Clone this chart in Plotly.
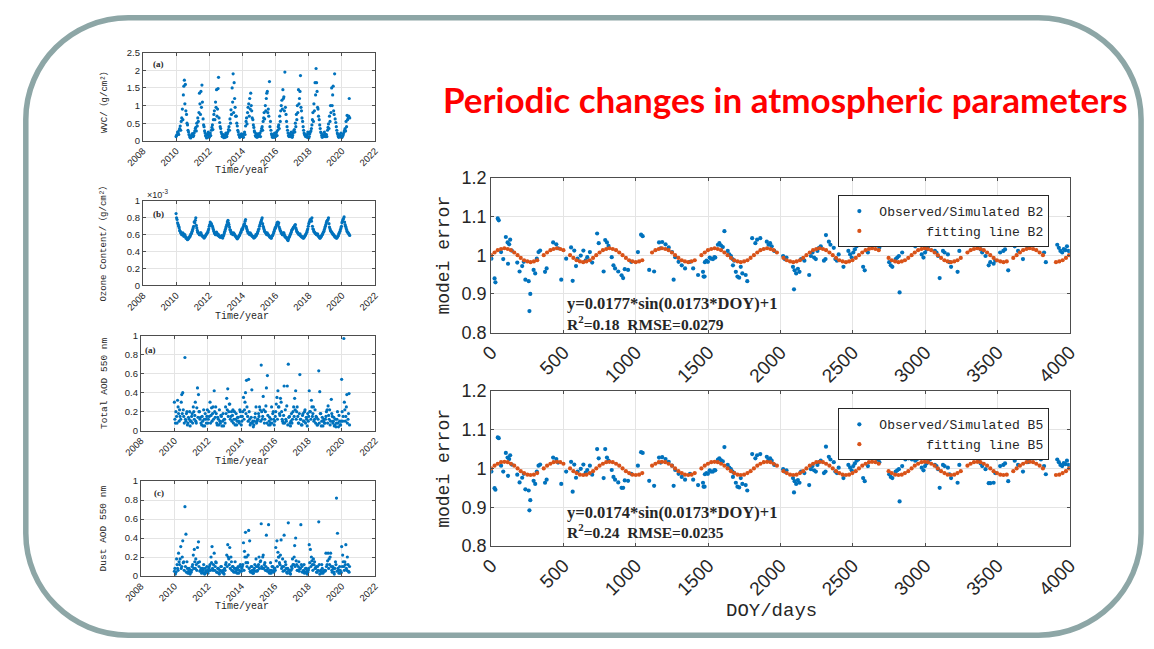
import plotly.graph_objects as go

W, H = 1154, 649


def px_x(x):
    return x / W


def px_y(y):
    return 1 - y / H


# ---------------- left panels: sampling times (years) ----------------
years = [
    2010.00, 2010.06, 2010.13, 2010.19, 2010.25, 2010.31, 2010.38, 2010.44, 2010.50, 2010.56, 2010.63, 2010.69, 2010.75, 2010.81, 2010.88, 2010.94,
    2011.00, 2011.06, 2011.13, 2011.19, 2011.25, 2011.31, 2011.38, 2011.44, 2011.50, 2011.56, 2011.63, 2011.69, 2011.75, 2011.81, 2011.88, 2011.94,
    2012.00, 2012.06, 2012.13, 2012.19, 2012.25, 2012.31, 2012.38, 2012.44, 2012.50, 2012.56, 2012.63, 2012.69, 2012.75, 2012.81, 2012.88, 2012.94,
    2013.00, 2013.06, 2013.13, 2013.19, 2013.25, 2013.31, 2013.38, 2013.44, 2013.50, 2013.56, 2013.63, 2013.69, 2013.75, 2013.81, 2013.88, 2013.94,
    2014.00, 2014.06, 2014.13, 2014.19, 2014.25, 2014.31, 2014.38, 2014.44, 2014.50, 2014.56, 2014.63, 2014.69, 2014.75, 2014.81, 2014.88, 2014.94,
    2015.00, 2015.06, 2015.13, 2015.19, 2015.25, 2015.31, 2015.38, 2015.44, 2015.50, 2015.56, 2015.63, 2015.69, 2015.75, 2015.81, 2015.88, 2015.94,
    2016.00, 2016.06, 2016.13, 2016.19, 2016.25, 2016.31, 2016.38, 2016.44, 2016.50, 2016.56, 2016.63, 2016.69, 2016.75, 2016.81, 2016.88, 2016.94,
    2017.00, 2017.06, 2017.13, 2017.19, 2017.25, 2017.31, 2017.38, 2017.44, 2017.50, 2017.56, 2017.63, 2017.69, 2017.75, 2017.81, 2017.88, 2017.94,
    2018.00, 2018.06, 2018.13, 2018.19, 2018.25, 2018.31, 2018.38, 2018.44, 2018.50, 2018.56, 2018.63, 2018.69, 2018.75, 2018.81, 2018.88, 2018.94,
    2019.00, 2019.06, 2019.13, 2019.19, 2019.25, 2019.31, 2019.38, 2019.44, 2019.50, 2019.56, 2019.63, 2019.69, 2019.75, 2019.81, 2019.88, 2019.94,
    2020.00, 2020.06, 2020.13, 2020.19, 2020.25, 2020.31, 2020.38, 2020.44,
]

years_mid = [
    2010.03, 2010.09, 2010.16, 2010.22, 2010.28, 2010.34, 2010.41, 2010.47, 2010.53, 2010.59, 2010.66, 2010.72, 2010.78, 2010.84, 2010.91, 2010.97,
    2011.03, 2011.09, 2011.16, 2011.22, 2011.28, 2011.34, 2011.41, 2011.47, 2011.53, 2011.59, 2011.66, 2011.72, 2011.78, 2011.84, 2011.91, 2011.97,
    2012.03, 2012.09, 2012.16, 2012.22, 2012.28, 2012.34, 2012.41, 2012.47, 2012.53, 2012.59, 2012.66, 2012.72, 2012.78, 2012.84, 2012.91, 2012.97,
    2013.03, 2013.09, 2013.16, 2013.22, 2013.28, 2013.34, 2013.41, 2013.47, 2013.53, 2013.59, 2013.66, 2013.72, 2013.78, 2013.84, 2013.91, 2013.97,
    2014.03, 2014.09, 2014.16, 2014.22, 2014.28, 2014.34, 2014.41, 2014.47, 2014.53, 2014.59, 2014.66, 2014.72, 2014.78, 2014.84, 2014.91, 2014.97,
    2015.03, 2015.09, 2015.16, 2015.22, 2015.28, 2015.34, 2015.41, 2015.47, 2015.53, 2015.59, 2015.66, 2015.72, 2015.78, 2015.84, 2015.91, 2015.97,
    2016.03, 2016.09, 2016.16, 2016.22, 2016.28, 2016.34, 2016.41, 2016.47, 2016.53, 2016.59, 2016.66, 2016.72, 2016.78, 2016.84, 2016.91, 2016.97,
    2017.03, 2017.09, 2017.16, 2017.22, 2017.28, 2017.34, 2017.41, 2017.47, 2017.53, 2017.59, 2017.66, 2017.72, 2017.78, 2017.84, 2017.91, 2017.97,
    2018.03, 2018.09, 2018.16, 2018.22, 2018.28, 2018.34, 2018.41, 2018.47, 2018.53, 2018.59, 2018.66, 2018.72, 2018.78, 2018.84, 2018.91, 2018.97,
    2019.03, 2019.09, 2019.16, 2019.22, 2019.28, 2019.34, 2019.41, 2019.47, 2019.53, 2019.59, 2019.66, 2019.72, 2019.78, 2019.84, 2019.91, 2019.97,
    2020.03, 2020.09, 2020.16, 2020.22, 2020.28, 2020.34, 2020.41, 2020.47,
]

wvc = [
    0.12, 0.18, 0.22, 0.30, 0.42, 0.55, 0.90, 1.30, 1.72, 1.60, 0.75, 0.45, 0.25, 0.15, 0.08, 0.14,
    0.20, 0.15, 0.28, 0.38, 0.50, 0.65, 0.80, 1.05, 1.40, 1.58, 0.62, 0.40, 0.22, 0.12, 0.18, 0.25,
    0.10, 0.22, 0.30, 0.45, 0.60, 0.85, 1.10, 1.45, 0.90, 1.80, 0.52, 0.35, 0.20, 0.14, 0.09, 0.16,
    0.22, 0.12, 0.25, 0.40, 0.62, 0.88, 1.50, 1.90, 1.65, 0.95, 0.70, 0.42, 0.25, 0.15, 0.12, 0.20,
    0.18, 0.10, 0.25, 0.42, 0.65, 0.80, 1.05, 1.20, 1.35, 0.85, 0.60, 0.38, 0.24, 0.12, 0.10, 0.20,
    0.15, 0.22, 0.28, 0.40, 0.55, 0.80, 1.00, 1.20, 1.40, 0.90, 1.68, 0.55, 0.20, 0.10, 0.14, 0.22,
    0.12, 0.25, 0.30, 0.45, 0.70, 0.85, 1.15, 1.45, 1.25, 1.95, 0.75, 0.40, 0.22, 0.12, 0.18, 0.25,
    0.10, 0.22, 0.32, 0.50, 0.75, 1.00, 1.45, 1.20, 1.85, 0.85, 0.55, 0.30, 0.18, 0.12, 0.15, 0.25,
    0.08, 0.20, 0.28, 0.45, 0.80, 1.05, 1.65, 2.05, 1.40, 0.90, 0.60, 0.35, 0.22, 0.10, 0.15, 0.25,
    0.12, 0.18, 0.30, 0.48, 0.70, 1.00, 1.50, 1.30, 0.85, 1.90, 0.52, 0.30, 0.18, 0.10, 0.14, 0.22,
    0.10, 0.15, 0.25, 0.35, 0.55, 0.72, 0.65, 1.20,
]

wvc_mid = [
    0.15, 0.25, 0.18, 0.35, 0.30, 0.65, 0.60, 1.55, 1.05, 0.85, 0.50, 0.30, 0.18, 0.10, 0.12, 0.20,
    0.12, 0.22, 0.35, 0.28, 0.42, 0.55, 1.35, 0.75, 0.95, 1.10, 0.45, 0.28, 0.15, 0.08, 0.20, 0.14,
    0.18, 0.15, 0.38, 0.32, 0.75, 0.60, 0.95, 0.70, 1.48, 0.65, 0.40, 0.25, 0.12, 0.18, 0.15, 0.10,
    0.15, 0.20, 0.32, 0.30, 0.50, 0.75, 1.10, 0.80, 1.20, 0.70, 0.50, 0.30, 0.18, 0.10, 0.18, 0.12,
    0.12, 0.20, 0.18, 0.55, 0.48, 0.95, 0.70, 0.90, 1.00, 0.65, 0.45, 0.28, 0.15, 0.20, 0.15, 0.12,
    0.20, 0.12, 0.35, 0.30, 0.65, 0.62, 0.85, 1.35, 0.80, 0.70, 0.40, 0.30, 0.15, 0.18, 0.10, 0.15,
    0.20, 0.15, 0.40, 0.35, 0.55, 1.00, 0.90, 1.20, 0.85, 0.95, 0.55, 0.30, 0.15, 0.20, 0.12, 0.18,
    0.15, 0.28, 0.25, 0.40, 0.60, 0.80, 1.05, 1.40, 0.95, 0.65, 0.40, 0.22, 0.15, 0.18, 0.10, 0.20,
    0.12, 0.25, 0.35, 0.60, 0.55, 0.85, 1.30, 1.65, 0.95, 0.70, 0.45, 0.25, 0.15, 0.18, 0.12, 0.20,
    0.18, 0.12, 0.38, 0.35, 0.55, 0.80, 1.00, 1.55, 0.75, 0.62, 0.40, 0.22, 0.12, 0.18, 0.15, 0.10,
    0.15, 0.20, 0.30, 0.28, 0.40, 0.60, 0.70, 0.65,
]

# ozone content in units of 1e-3 g/cm^2
ozone_e3 = [
    0.85, 0.78, 0.72, 0.68, 0.64, 0.62, 0.60, 0.61, 0.59, 0.58, 0.56, 0.54, 0.55, 0.57, 0.60, 0.62,
    0.66, 0.70, 0.74, 0.80, 0.68, 0.63, 0.61, 0.60, 0.62, 0.59, 0.58, 0.56, 0.58, 0.60, 0.62, 0.65,
    0.70, 0.75, 0.73, 0.70, 0.66, 0.62, 0.60, 0.63, 0.61, 0.60, 0.58, 0.57, 0.59, 0.56, 0.60, 0.64,
    0.68, 0.72, 0.77, 0.72, 0.66, 0.63, 0.62, 0.60, 0.61, 0.59, 0.57, 0.55, 0.57, 0.59, 0.62, 0.65,
    0.66, 0.70, 0.73, 0.78, 0.68, 0.64, 0.62, 0.60, 0.61, 0.59, 0.58, 0.56, 0.57, 0.60, 0.61, 0.64,
    0.67, 0.72, 0.76, 0.80, 0.70, 0.66, 0.63, 0.61, 0.62, 0.60, 0.58, 0.57, 0.56, 0.59, 0.62, 0.66,
    0.68, 0.72, 0.75, 0.74, 0.67, 0.64, 0.61, 0.60, 0.62, 0.58, 0.57, 0.55, 0.53, 0.57, 0.60, 0.63,
    0.66, 0.68, 0.70, 0.72, 0.66, 0.63, 0.61, 0.60, 0.59, 0.58, 0.57, 0.56, 0.58, 0.60, 0.63, 0.67,
    0.73, 0.76, 0.78, 0.80, 0.67, 0.64, 0.62, 0.61, 0.60, 0.59, 0.57, 0.56, 0.58, 0.60, 0.63, 0.66,
    0.70, 0.74, 0.77, 0.80, 0.69, 0.65, 0.63, 0.61, 0.60, 0.58, 0.57, 0.56, 0.58, 0.61, 0.64, 0.68,
    0.74, 0.78, 0.81, 0.72, 0.68, 0.64, 0.62, 0.60,
]

ozone_e3_mid = [
    0.80, 0.74, 0.70, 0.65, 0.62, 0.60, 0.62, 0.58, 0.60, 0.56, 0.55, 0.56, 0.57, 0.58, 0.61, 0.64,
    0.68, 0.75, 0.77, 0.71, 0.65, 0.62, 0.60, 0.62, 0.60, 0.58, 0.57, 0.57, 0.59, 0.61, 0.63, 0.67,
    0.72, 0.73, 0.71, 0.68, 0.64, 0.61, 0.62, 0.60, 0.59, 0.58, 0.57, 0.58, 0.57, 0.58, 0.62, 0.66,
    0.70, 0.75, 0.74, 0.69, 0.65, 0.61, 0.61, 0.62, 0.60, 0.58, 0.56, 0.56, 0.58, 0.60, 0.63, 0.67,
    0.68, 0.72, 0.76, 0.70, 0.66, 0.62, 0.61, 0.62, 0.60, 0.58, 0.57, 0.57, 0.58, 0.59, 0.62, 0.66,
    0.70, 0.74, 0.78, 0.73, 0.68, 0.64, 0.62, 0.60, 0.60, 0.59, 0.57, 0.56, 0.58, 0.60, 0.64, 0.68,
    0.70, 0.74, 0.72, 0.69, 0.65, 0.62, 0.60, 0.62, 0.60, 0.57, 0.56, 0.54, 0.55, 0.58, 0.61, 0.65,
    0.67, 0.69, 0.71, 0.68, 0.64, 0.62, 0.60, 0.61, 0.58, 0.57, 0.56, 0.57, 0.59, 0.61, 0.65, 0.70,
    0.75, 0.78, 0.76, 0.70, 0.66, 0.63, 0.61, 0.60, 0.61, 0.58, 0.56, 0.57, 0.59, 0.61, 0.64, 0.68,
    0.72, 0.76, 0.78, 0.73, 0.67, 0.64, 0.62, 0.60, 0.59, 0.57, 0.56, 0.57, 0.59, 0.62, 0.66, 0.70,
    0.76, 0.79, 0.75, 0.70, 0.66, 0.63, 0.61, 0.59,
]

aod_total = [
    0.30, 0.08, 0.15, 0.32, 0.18, 0.22, 0.12, 0.38, 0.40, 0.15, 0.77, 0.10, 0.20, 0.08, 0.12, 0.05,
    0.10, 0.18, 0.25, 0.12, 0.30, 0.08, 0.45, 0.38, 0.20, 0.14, 0.06, 0.10, 0.22, 0.05, 0.12, 0.15,
    0.08, 0.20, 0.30, 0.16, 0.10, 0.25, 0.42, 0.14, 0.18, 0.06, 0.12, 0.22, 0.08, 0.15, 0.10, 0.05,
    0.12, 0.25, 0.34, 0.44, 0.20, 0.28, 0.15, 0.10, 0.22, 0.12, 0.06, 0.18, 0.10, 0.14, 0.08, 0.20,
    0.06, 0.15, 0.35, 0.22, 0.40, 0.53, 0.15, 0.54, 0.12, 0.08, 0.43, 0.10, 0.06, 0.14, 0.25, 0.10,
    0.12, 0.15, 0.22, 0.69, 0.12, 0.36, 0.08, 0.20, 0.45, 0.58, 0.06, 0.14, 0.08, 0.25, 0.18, 0.12,
    0.10, 0.20, 0.35, 0.42, 0.25, 0.16, 0.30, 0.12, 0.08, 0.47, 0.22, 0.10, 0.47, 0.70, 0.15, 0.05,
    0.18, 0.12, 0.25, 0.34, 0.42, 0.20, 0.15, 0.08, 0.59, 0.12, 0.06, 0.18, 0.10, 0.22, 0.14, 0.05,
    0.10, 0.42, 0.20, 0.32, 0.15, 0.25, 0.12, 0.08, 0.14, 0.06, 0.63, 0.41, 0.18, 0.10, 0.05, 0.12,
    0.08, 0.15, 0.22, 0.26, 0.12, 0.06, 0.33, 0.15, 0.10, 0.05, 0.12, 0.08, 0.20, 0.04, 0.10, 0.06,
    0.54, 0.10, 0.97, 0.22, 0.15, 0.38, 0.12, 0.39,
]

aod_total_mid = [
    0.12, 0.20, 0.08, 0.25, 0.10, 0.15, 0.30, 0.18, 0.22, 0.08, 0.12, 0.18, 0.06, 0.14, 0.20, 0.10,
    0.15, 0.08, 0.20, 0.16, 0.10, 0.24, 0.14, 0.20, 0.12, 0.08, 0.15, 0.05, 0.12, 0.18, 0.08, 0.22,
    0.12, 0.15, 0.08, 0.24, 0.18, 0.12, 0.20, 0.25, 0.08, 0.14, 0.06, 0.10, 0.16, 0.05, 0.18, 0.12,
    0.08, 0.18, 0.22, 0.15, 0.28, 0.12, 0.20, 0.16, 0.08, 0.20, 0.12, 0.06, 0.14, 0.10, 0.22, 0.15,
    0.10, 0.20, 0.12, 0.30, 0.18, 0.25, 0.10, 0.20, 0.06, 0.14, 0.08, 0.04, 0.10, 0.18, 0.08, 0.12,
    0.18, 0.25, 0.10, 0.20, 0.15, 0.22, 0.12, 0.26, 0.08, 0.16, 0.10, 0.06, 0.12, 0.08, 0.20, 0.06,
    0.15, 0.28, 0.12, 0.25, 0.18, 0.34, 0.20, 0.10, 0.16, 0.08, 0.12, 0.26, 0.06, 0.14, 0.08, 0.10,
    0.08, 0.20, 0.15, 0.22, 0.12, 0.25, 0.08, 0.18, 0.12, 0.06, 0.16, 0.10, 0.20, 0.08, 0.12, 0.18,
    0.15, 0.20, 0.12, 0.25, 0.18, 0.10, 0.22, 0.15, 0.06, 0.12, 0.08, 0.18, 0.05, 0.14, 0.10, 0.08,
    0.12, 0.20, 0.08, 0.16, 0.22, 0.10, 0.18, 0.08, 0.14, 0.06, 0.04, 0.12, 0.08, 0.16, 0.06, 0.10,
    0.20, 0.15, 0.30, 0.10, 0.25, 0.08, 0.18, 0.06,
]

aod_dust = [
    0.05, 0.02, 0.18, 0.08, 0.24, 0.12, 0.31, 0.10, 0.37, 0.15, 0.73, 0.44, 0.15, 0.03, 0.08, 0.02,
    0.04, 0.10, 0.22, 0.28, 0.08, 0.12, 0.30, 0.36, 0.15, 0.06, 0.03, 0.08, 0.12, 0.02, 0.05, 0.10,
    0.03, 0.08, 0.12, 0.20, 0.31, 0.06, 0.24, 0.10, 0.14, 0.04, 0.08, 0.02, 0.06, 0.10, 0.05, 0.03,
    0.08, 0.12, 0.22, 0.33, 0.18, 0.30, 0.20, 0.06, 0.10, 0.04, 0.15, 0.08, 0.03, 0.10, 0.06, 0.12,
    0.05, 0.10, 0.35, 0.26, 0.46, 0.20, 0.14, 0.48, 0.37, 0.04, 0.10, 0.03, 0.06, 0.12, 0.18, 0.05,
    0.10, 0.20, 0.15, 0.55, 0.08, 0.22, 0.12, 0.06, 0.43, 0.05, 0.54, 0.03, 0.14, 0.06, 0.10, 0.04,
    0.08, 0.30, 0.37, 0.25, 0.20, 0.12, 0.38, 0.10, 0.05, 0.43, 0.15, 0.08, 0.03, 0.56, 0.06, 0.02,
    0.10, 0.18, 0.12, 0.32, 0.40, 0.12, 0.06, 0.15, 0.08, 0.54, 0.10, 0.05, 0.12, 0.04, 0.08, 0.02,
    0.06, 0.33, 0.28, 0.20, 0.12, 0.18, 0.15, 0.08, 0.04, 0.10, 0.57, 0.02, 0.06, 0.12, 0.03, 0.05,
    0.05, 0.24, 0.12, 0.24, 0.18, 0.20, 0.10, 0.04, 0.08, 0.02, 0.15, 0.82, 0.45, 0.06, 0.10, 0.03,
    0.31, 0.22, 0.10, 0.15, 0.33, 0.06, 0.12, 0.04,
]

aod_dust_mid = [
    0.08, 0.04, 0.12, 0.06, 0.15, 0.18, 0.08, 0.20, 0.14, 0.06, 0.10, 0.04, 0.08, 0.05, 0.03, 0.06,
    0.06, 0.12, 0.08, 0.15, 0.18, 0.06, 0.14, 0.10, 0.05, 0.08, 0.04, 0.06, 0.03, 0.08, 0.04, 0.06,
    0.05, 0.10, 0.06, 0.14, 0.08, 0.12, 0.06, 0.15, 0.04, 0.08, 0.03, 0.06, 0.10, 0.04, 0.06, 0.02,
    0.06, 0.14, 0.10, 0.20, 0.12, 0.08, 0.15, 0.10, 0.05, 0.08, 0.04, 0.06, 0.08, 0.03, 0.10, 0.05,
    0.08, 0.12, 0.06, 0.20, 0.14, 0.10, 0.22, 0.08, 0.05, 0.10, 0.06, 0.03, 0.08, 0.05, 0.10, 0.06,
    0.12, 0.08, 0.16, 0.10, 0.20, 0.08, 0.14, 0.10, 0.06, 0.08, 0.04, 0.06, 0.03, 0.10, 0.05, 0.08,
    0.06, 0.16, 0.10, 0.20, 0.14, 0.22, 0.08, 0.18, 0.10, 0.06, 0.12, 0.04, 0.08, 0.06, 0.03, 0.06,
    0.08, 0.12, 0.20, 0.10, 0.16, 0.06, 0.10, 0.05, 0.08, 0.12, 0.04, 0.06, 0.03, 0.08, 0.05, 0.04,
    0.08, 0.14, 0.10, 0.16, 0.06, 0.12, 0.08, 0.10, 0.04, 0.06, 0.12, 0.05, 0.03, 0.08, 0.05, 0.06,
    0.06, 0.10, 0.16, 0.08, 0.12, 0.24, 0.06, 0.10, 0.04, 0.08, 0.12, 0.05, 0.08, 0.03, 0.06, 0.04,
    0.10, 0.15, 0.06, 0.12, 0.08, 0.20, 0.05, 0.10,
]

# ---------------- right panels: observed / simulated ratios ----------------
doy = [
    1, 23, 29, 45, 52, 68, 83, 101, 113, 116,
    124, 131, 142, 180, 196, 214, 225, 236, 259, 264,
    270, 293, 304, 315, 327, 338, 372, 383, 428, 450,
    462, 484, 518, 552, 563, 574, 586, 597, 619, 637,
    653, 664, 682, 698, 732, 743, 777, 788, 800, 811,
    833, 845, 856, 878, 901, 912, 923, 946, 968, 1014,
    1036, 1047, 1092, 1126, 1160, 1171, 1182, 1205, 1227, 1250,
    1261, 1272, 1295, 1317, 1340, 1374, 1396, 1430, 1464, 1468,
    1475, 1477, 1488, 1498, 1510, 1520, 1533, 1543, 1549, 1567,
    1577, 1589, 1601, 1612, 1635, 1646, 1657, 1668, 1671, 1680,
    1691, 1702, 1714, 1725, 1736, 1759, 1770, 1804, 1826, 1838,
    1860, 1905, 1917, 1928, 1939, 1957, 2018, 2029, 2041, 2086,
    2093, 2097, 2108, 2120, 2131, 2142, 2165, 2198, 2210, 2221,
    2232, 2244, 2255, 2266, 2278, 2300, 2311, 2314, 2334, 2345,
    2368, 2379, 2390, 2402, 2435, 2469, 2481, 2492, 2495, 2503,
    2514, 2526, 2537, 2571, 2582, 2604, 2627, 2638, 2672, 2683,
    2728, 2751, 2762, 2773, 2796, 2807, 2818, 2823, 2841, 2863,
    2886, 2908, 2931, 2942, 2976, 2988, 2999, 3010, 3021, 3033,
    3055, 3067, 3078, 3089, 3100, 3123, 3134, 3157, 3168, 3179,
    3224, 3230, 3236, 3292, 3315, 3371, 3383, 3394, 3417, 3439,
    3450, 3473, 3484, 3495, 3518, 3540, 3552, 3574, 3619, 3642,
    3676, 3710, 3721, 3743, 3766, 3788, 3800, 3822, 3834, 3913,
    3924, 3935, 3947, 3958, 3969, 3980, 3992,
]

ratio_b2 = [
    0.991, 0.940, 0.930, 1.095, 1.090, 1.008, 0.990, 1.047, 1.033, 0.978,
    1.028, 1.040, 1.012, 0.981, 0.958, 0.972, 0.983, 0.937, 0.933, 0.856,
    0.900, 0.962, 0.953, 0.991, 1.008, 1.012, 0.957, 0.966, 1.033, 1.028,
    1.018, 0.937, 0.991, 1.020, 0.934, 1.012, 0.972, 0.991, 0.999, 1.012,
    0.987, 0.995, 1.008, 0.981, 1.056, 1.031, 0.958, 1.039, 1.033, 1.024,
    0.995, 0.974, 0.966, 0.958, 0.948, 0.941, 0.964, 0.962, 0.983, 1.008,
    1.053, 1.049, 0.962, 0.958, 1.033, 1.018, 1.034, 1.028, 1.020, 1.008,
    0.937, 0.995, 0.983, 0.974, 0.966, 0.983, 0.966, 0.949, 0.957, 0.945,
    0.945, 0.982, 0.986, 0.983, 0.994, 0.991, 0.990, 0.995, 0.994, 1.027,
    1.031, 1.025, 1.021, 1.062, 1.011, 1.002, 0.998, 0.990, 0.974, 0.986,
    0.957, 0.945, 0.942, 0.970, 0.953, 0.949, 0.933, 1.044, 1.031, 1.040,
    1.044, 1.035, 1.027, 1.031, 1.023, 1.011, 0.998, 0.990, 0.994, 0.970,
    0.912, 0.961, 0.953, 0.965, 0.957, 0.990, 0.986, 0.949, 0.998, 1.007,
    0.994, 0.990, 1.011, 1.019, 1.023, 0.986, 0.990, 1.052, 1.035, 1.027,
    1.019, 0.990, 0.986, 1.002, 0.970, 1.011, 1.002, 0.994, 1.040, 1.007,
    1.015, 1.023, 1.027, 0.970, 0.961, 1.007, 1.035, 1.031, 1.027, 1.019,
    1.035, 0.982, 0.974, 0.970, 0.990, 0.994, 0.998, 0.904, 1.007, 1.027,
    1.031, 1.027, 1.023, 1.027, 1.002, 0.994, 1.007, 1.015, 1.023, 1.027,
    1.052, 1.011, 1.007, 0.998, 0.941, 1.011, 1.007, 1.002, 0.982, 0.970,
    0.957, 1.038, 1.011, 1.052, 1.048, 1.027, 1.015, 1.007, 0.998, 0.974,
    0.982, 0.978, 0.986, 1.031, 1.007, 1.011, 1.015, 0.961, 1.023, 1.011,
    0.990, 1.019, 1.027, 1.030, 1.031, 1.035, 1.027, 1.007, 0.982, 1.027,
    1.019, 1.011, 1.007, 1.016, 1.013, 1.023, 1.011,
]

ratio_b5 = [
    0.992, 0.949, 0.945, 1.080, 1.078, 1.007, 0.992, 1.040, 1.028, 0.981,
    1.024, 1.034, 1.010, 0.984, 0.964, 0.976, 0.986, 0.946, 0.943, 0.892,
    0.918, 0.968, 0.960, 0.992, 1.007, 1.010, 0.963, 0.971, 1.028, 1.024,
    1.015, 0.960, 0.992, 1.017, 0.940, 1.010, 0.976, 0.992, 0.999, 1.010,
    0.989, 0.996, 1.007, 0.984, 1.050, 1.026, 0.975, 1.050, 1.028, 1.020,
    0.996, 0.978, 0.971, 0.964, 0.950, 0.950, 0.969, 0.968, 0.986, 1.007,
    1.042, 1.040, 0.968, 0.955, 1.028, 1.015, 1.029, 1.024, 1.017, 1.007,
    0.955, 0.996, 0.986, 0.978, 0.971, 0.986, 0.971, 0.957, 0.963, 0.953,
    0.953, 0.985, 0.988, 0.986, 0.995, 0.992, 0.992, 0.996, 0.995, 1.023,
    1.026, 1.021, 1.018, 1.055, 1.009, 1.002, 0.998, 0.992, 0.978, 0.988,
    0.963, 0.953, 0.951, 0.975, 0.960, 0.957, 0.943, 1.037, 1.026, 1.034,
    1.037, 1.030, 1.023, 1.026, 1.020, 1.009, 0.998, 0.992, 0.995, 0.975,
    0.938, 0.967, 0.960, 0.970, 0.963, 0.992, 0.988, 0.957, 0.998, 1.006,
    0.995, 0.992, 1.009, 1.016, 1.020, 0.988, 0.992, 1.056, 1.030, 1.023,
    1.016, 0.992, 0.988, 1.002, 0.975, 1.009, 1.002, 0.995, 1.034, 1.006,
    1.013, 1.020, 1.023, 0.975, 0.967, 1.006, 1.030, 1.026, 1.023, 1.016,
    1.030, 0.985, 0.978, 0.975, 0.992, 0.995, 0.998, 0.915, 1.006, 1.023,
    1.026, 1.023, 1.020, 1.023, 1.002, 0.995, 1.006, 1.013, 1.020, 1.023,
    1.044, 1.009, 1.006, 0.998, 0.950, 1.009, 1.006, 1.002, 0.985, 0.975,
    0.963, 1.032, 1.009, 1.044, 1.041, 1.023, 1.013, 1.006, 0.998, 0.962,
    0.962, 0.963, 0.988, 1.026, 1.006, 1.009, 1.013, 0.967, 1.020, 1.009,
    0.992, 1.016, 1.023, 1.026, 1.026, 1.030, 1.023, 1.006, 0.985, 1.023,
    1.016, 1.009, 1.006, 1.014, 1.011, 1.020, 1.009,
]

# fitted curve values read at the plotted DOY positions
fit_doy = [
    0, 23, 45, 68, 91, 114, 136, 159, 182, 204, 227, 250, 272, 295, 318,
    363, 386, 409, 431, 454, 477, 499, 545, 568, 590, 613, 636, 658, 681, 704,
    726, 749, 772, 795, 817, 840, 863, 885, 908, 931, 953, 976, 999, 1022, 1044,
    1112, 1135, 1158, 1180, 1203, 1226, 1249, 1271, 1294, 1317, 1339, 1362, 1385, 1407,
    1453, 1476, 1498, 1521, 1544, 1566, 1589, 1612, 1634, 1657, 1680, 1703, 1725, 1748, 1771, 1793,
    1816, 1839, 1861, 1884, 1907, 1930, 1952, 1975, 2020, 2043, 2066, 2088, 2111, 2134, 2157,
    2179, 2202, 2225, 2247, 2270, 2293, 2315, 2338, 2361, 2384, 2406, 2429, 2452, 2474, 2497, 2520,
    2542, 2565, 2588, 2611, 2633, 2656, 2679, 2747, 2769, 2792, 2815, 2838, 2860, 2883,
    2906, 2928, 2951, 2974, 2996, 3019, 3042, 3065, 3087, 3110, 3133, 3155, 3178, 3201, 3223, 3246,
    3292, 3314, 3337, 3360, 3382, 3405, 3428, 3450, 3473, 3496, 3519, 3541, 3564, 3609,
    3632, 3655, 3677, 3700, 3723, 3746, 3768, 3791, 3814, 3904, 3927, 3950, 3973,
    3995,
]

fit_b2 = [
    1.000, 1.007, 1.013, 1.016, 1.018, 1.016, 1.013, 1.007, 1.000, 0.993, 0.987, 0.984, 0.982, 0.984, 0.987,
    1.000, 1.007, 1.013, 1.016, 1.018, 1.016, 1.013, 1.000, 0.993, 0.987, 0.984, 0.982, 0.984, 0.987, 0.993,
    1.000, 1.007, 1.013, 1.016, 1.018, 1.016, 1.013, 1.007, 1.000, 0.993, 0.987, 0.984, 0.982, 0.984, 0.987,
    1.007, 1.013, 1.016, 1.018, 1.016, 1.013, 1.007, 1.000, 0.993, 0.987, 0.984, 0.982, 0.984, 0.987,
    1.000, 1.007, 1.013, 1.016, 1.018, 1.016, 1.013, 1.007, 1.000, 0.993, 0.987, 0.984, 0.982, 0.984, 0.987, 0.993,
    1.000, 1.007, 1.013, 1.016, 1.018, 1.016, 1.013, 1.007, 0.993, 0.987, 0.984, 0.982, 0.984, 0.987, 0.993,
    1.000, 1.007, 1.013, 1.016, 1.018, 1.016, 1.013, 1.007, 1.000, 0.993, 0.987, 0.984, 0.982, 0.984, 0.987, 0.993,
    1.000, 1.007, 1.013, 1.016, 1.018, 1.016, 1.013, 0.993, 0.987, 0.984, 0.982, 0.984, 0.987, 0.993,
    1.000, 1.007, 1.013, 1.016, 1.018, 1.016, 1.013, 1.007, 1.000, 0.993, 0.987, 0.984, 0.982, 0.984, 0.987, 0.993,
    1.007, 1.013, 1.016, 1.018, 1.016, 1.013, 1.007, 1.000, 0.993, 0.987, 0.984, 0.982, 0.984, 0.993,
    1.000, 1.007, 1.013, 1.016, 1.018, 1.016, 1.013, 1.007, 1.000, 0.982, 0.984, 0.987, 0.993,
    1.000,
]

fit_b5 = [
    1.000, 1.007, 1.012, 1.016, 1.017, 1.016, 1.012, 1.007, 1.000, 0.993, 0.988, 0.984, 0.983, 0.984, 0.988,
    1.000, 1.007, 1.012, 1.016, 1.017, 1.016, 1.012, 1.000, 0.993, 0.988, 0.984, 0.983, 0.984, 0.988, 0.993,
    1.000, 1.007, 1.012, 1.016, 1.017, 1.016, 1.012, 1.007, 1.000, 0.993, 0.988, 0.984, 0.983, 0.984, 0.988,
    1.007, 1.012, 1.016, 1.017, 1.016, 1.012, 1.007, 1.000, 0.993, 0.988, 0.984, 0.983, 0.984, 0.988,
    1.000, 1.007, 1.012, 1.016, 1.017, 1.016, 1.012, 1.007, 1.000, 0.993, 0.988, 0.984, 0.983, 0.984, 0.988, 0.993,
    1.000, 1.007, 1.012, 1.016, 1.017, 1.016, 1.012, 1.007, 0.993, 0.988, 0.984, 0.983, 0.984, 0.988, 0.993,
    1.000, 1.007, 1.012, 1.016, 1.017, 1.016, 1.012, 1.007, 1.000, 0.993, 0.988, 0.984, 0.983, 0.984, 0.988, 0.993,
    1.000, 1.007, 1.012, 1.016, 1.017, 1.016, 1.012, 0.993, 0.988, 0.984, 0.983, 0.984, 0.988, 0.993,
    1.000, 1.007, 1.012, 1.016, 1.017, 1.016, 1.012, 1.007, 1.000, 0.993, 0.988, 0.984, 0.983, 0.984, 0.988, 0.993,
    1.007, 1.012, 1.016, 1.017, 1.016, 1.012, 1.007, 1.000, 0.993, 0.988, 0.984, 0.983, 0.984, 0.993,
    1.000, 1.007, 1.012, 1.016, 1.017, 1.016, 1.012, 1.007, 1.000, 0.983, 0.984, 0.988, 0.993,
    1.000,
]

year_ticks = [2008, 2010, 2012, 2014, 2016, 2018, 2020, 2022]
doy_ticks = [0, 500, 1000, 1500, 2000, 2500, 3000, 3500, 4000]

BLUE = "#0072BD"
ORANGE = "#D95319"
AXC = "#4d4d4d"
GRID = "#e4e4e4"
TXT = "#262626"
MONO = "Liberation Mono, Noto Sans CJK SC, monospace"
SERIF = "Liberation Serif, serif"
SANS = "Liberation Sans, Arial, sans-serif"

fig = go.Figure()

left = [("x", "y", wvc, wvc_mid), ("x2", "y2", ozone_e3, ozone_e3_mid),
        ("x3", "y3", aod_total, aod_total_mid), ("x4", "y4", aod_dust, aod_dust_mid)]
for xa, ya, vals, vals_mid in left:
    fig.add_trace(go.Scatter(x=years + years_mid, y=vals + vals_mid, mode="markers",
                             xaxis=xa, yaxis=ya, marker=dict(color=BLUE, size=3.2),
                             showlegend=False, hoverinfo="skip"))

fig.add_trace(go.Scatter(x=doy, y=ratio_b2, mode="markers", xaxis="x5", yaxis="y5",
                         name="Observed/Simulated B2", legend="legend",
                         marker=dict(color=BLUE, size=4.2)))
fig.add_trace(go.Scatter(x=fit_doy, y=fit_b2, mode="markers", xaxis="x5", yaxis="y5",
                         name="\u00a0" * 6 + "fitting line B2", legend="legend",
                         marker=dict(color=ORANGE, size=4.2)))
fig.add_trace(go.Scatter(x=doy, y=ratio_b5, mode="markers", xaxis="x6", yaxis="y6",
                         name="Observed/Simulated B5", legend="legend2",
                         marker=dict(color=BLUE, size=4.2)))
fig.add_trace(go.Scatter(x=fit_doy, y=fit_b5, mode="markers", xaxis="x6", yaxis="y6",
                         name="\u00a0" * 6 + "fitting line B5", legend="legend2",
                         marker=dict(color=ORANGE, size=4.2)))


def ax(domain, rng, tickvals, anchor, fsize, angle=0):
    return dict(domain=domain, range=rng, autorange=False, tickvals=tickvals,
                anchor=anchor, showline=True, linecolor=AXC, linewidth=1, mirror="ticks",
                ticks="inside", ticklen=3, tickcolor=AXC, showgrid=True, gridcolor=GRID,
                gridwidth=1, zeroline=False, tickangle=angle,
                tickfont=dict(family=SANS, size=fsize, color=TXT))


LX1 = [px_x(128), px_x(366)]
LX3 = [px_x(126), px_x(366)]
RX = [px_x(485), px_x(1078)]
layout_axes = dict(
    xaxis=ax(LX1, [2008, 2022], year_ticks, "y", 9.5, -45),
    yaxis=ax([px_y(135), px_y(44)], [0, 2.5], [0, 0.5, 1, 1.5, 2, 2.5], "x", 9.5),
    xaxis2=ax(LX1, [2008, 2022], year_ticks, "y2", 9.5, -45),
    yaxis2=ax([px_y(284), px_y(197)], [0, 1], [0, 0.2, 0.4, 0.6, 0.8, 1], "x2", 9.5),
    xaxis3=ax(LX3, [2008, 2022], year_ticks, "y3", 9.5, -45),
    yaxis3=ax([px_y(434), px_y(336)], [0, 1], [0, 0.2, 0.4, 0.6, 0.8, 1], "x3", 9.5),
    xaxis4=ax(LX3, [2008, 2022], year_ticks, "y4", 9.5, -45),
    yaxis4=ax([px_y(584), px_y(486)], [0, 1], [0, 0.2, 0.4, 0.6, 0.8, 1], "x4", 9.5),
    xaxis5=ax(RX, [0, 4000], doy_ticks, "y5", 19, -45),
    yaxis5=ax([px_y(333), px_y(173)], [0.8, 1.2], [0.8, 0.9, 1.0, 1.1, 1.2], "x5", 18),
    xaxis6=ax(RX, [0, 4000], doy_ticks, "y6", 19, -45),
    yaxis6=ax([px_y(553), px_y(393)], [0.8, 1.2], [0.8, 0.9, 1.0, 1.1, 1.2], "x6", 18),
)

legend_style = dict(xanchor="right", yanchor="top", bgcolor="white", bordercolor=TXT,
                    borderwidth=1, font=dict(family=MONO, size=13, color=TXT),
                    tracegroupgap=0, itemwidth=30)

annotations = []


def note(text, x, y, size, family, color=TXT, angle=0, xanchor="center", yanchor="middle"):
    annotations.append(dict(text=text, x=px_x(x), y=px_y(y), xref="paper", yref="paper",
                            showarrow=False, textangle=angle, xanchor=xanchor,
                            yanchor=yanchor, font=dict(size=size, family=family, color=color)))


# title
note("<b>Periodic changes in atmospheric parameters</b>", 787, 92, 35, "Lato, Noto Sans, sans-serif",
     color="#ff0000")
# left panels texts
note("WVC/（g/cm²）", 88, 92, 9, MONO, angle=-90)
note("Ozone Content/（g/cm²）", 88, 238, 9, MONO, angle=-90)
note("Total AOD 550 nm", 88, 385, 9.5, MONO, angle=-90)
note("Dust AOD 550 nm", 88, 535, 9.5, MONO, angle=-90)
for yy in (166, 316, 466, 615):
    note("Time/year", 230, yy, 10, MONO)
note("<b>(a)</b>", 136, 56, 9, SERIF, xanchor="left")
note("<b>(b)</b>", 136, 210, 9, SERIF, xanchor="left")
note("<b>(a)</b>", 128, 351, 9, SERIF, xanchor="left")
note("<b>(c)</b>", 137, 498, 9, SERIF, xanchor="left")
note("×10<sup>-3</sup>", 130, 190, 9, SANS, xanchor="left")
# right panels texts
note("modei error", 437, 253, 18, MONO, angle=-90)
note("modei error", 437, 473, 18, MONO, angle=-90)
note("DOY/days", 772, 620, 19, MONO)
note("<b>y=0.0177*sin(0.0173*DOY)+1</b>", 561, 303, 16.5, SERIF, xanchor="left")
note("<b>R<sup>2</sup>=0.18  RMSE=0.0279</b>", 561, 323, 15.5, SERIF, xanchor="left")
note("<b>y=0.0174*sin(0.0173*DOY)+1</b>", 561, 518, 16.5, SERIF, xanchor="left")
note("<b>R<sup>2</sup>=0.24  RMSE=0.0235</b>", 561, 538, 15.5, SERIF, xanchor="left")

# rounded frame
Lf, Tf, Rf, Bf, r = 8, 8, 1151, 645, 105
k = 0.5523 * r


def P(x, y):
    return f"{px_x(x):.5f},{px_y(y):.5f}"


frame = (f"M {P(Lf, Tf + r)} C {P(Lf, Tf + r - k)} {P(Lf + r - k, Tf)} {P(Lf + r, Tf)} "
         f"L {P(Rf - r, Tf)} C {P(Rf - r + k, Tf)} {P(Rf, Tf + r - k)} {P(Rf, Tf + r)} "
         f"L {P(Rf, Bf - r)} C {P(Rf, Bf - r + k)} {P(Rf - r + k, Bf)} {P(Rf - r, Bf)} "
         f"L {P(Lf + r, Bf)} C {P(Lf + r - k, Bf)} {P(Lf, Bf - r + k)} {P(Lf, Bf - r)} Z")

fig.update_layout(
    width=W, height=H, autosize=False,
    margin=dict(l=0, r=0, t=0, b=0),
    paper_bgcolor="white", plot_bgcolor="white",
    showlegend=True,
    legend=dict(x=px_x(1057), y=px_y(191), **legend_style),
    legend2=dict(x=px_x(1057), y=px_y(411), **legend_style),
    annotations=annotations,
    shapes=[dict(type="path", path=frame, xref="paper", yref="paper",
                 line=dict(color="#8DA6A6", width=5.5), layer="below")],
    **layout_axes,
)

fig.write_html("out.html")
